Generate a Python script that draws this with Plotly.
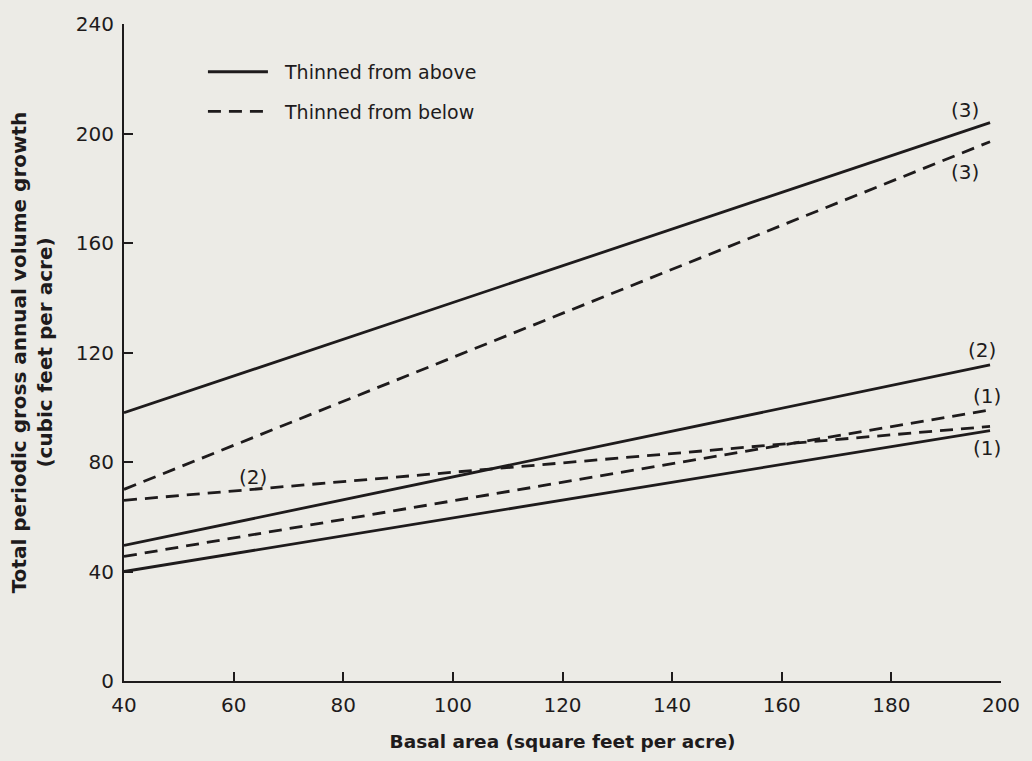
import plotly.graph_objects as go

# Data (basal area, sq ft per acre) and growth (cu ft per acre)
x_ends = [40, 198]
above_1 = [40, 91.5]
above_2 = [49.5, 115.5]
above_3 = [98, 204]
below_1 = [45.5, 99]
below_2 = [66, 93]
below_3 = [70, 197]

labels = ["(3)", "(3)", "(2)", "(1)", "(1)", "(2)"]
label_x = [193.5, 193.5, 196.5, 197.5, 197.5, 63.5]
label_y = [208.5, 186, 121, 104, 85, 74.5]

x_ticks = [40, 60, 80, 100, 120, 140, 160, 180, 200]
y_ticks = [0, 40, 80, 120, 160, 200, 240]

BG = "#ecebe6"
INK = "#1e1b1c"
FONT = "DejaVu Sans"

fig = go.Figure()

def add(y, dash, name, show):
    fig.add_trace(go.Scatter(
        x=x_ends, y=y, mode="lines",
        line=dict(color=INK, width=2.8, dash=dash),
        name="\u00a0\u00a0" + name, showlegend=show, legendgroup=name,
    ))

DASH = "13px,8px"
add(above_3, "solid", "Thinned from above", True)
add(above_2, "solid", "Thinned from above", False)
add(above_1, "solid", "Thinned from above", False)
add(below_3, DASH, "Thinned from below", True)
add(below_2, DASH, "Thinned from below", False)
add(below_1, DASH, "Thinned from below", False)

for t, lx, ly in zip(labels, label_x, label_y):
    fig.add_annotation(x=lx, y=ly, text=t, showarrow=False,
                       font=dict(family=FONT, size=20, color=INK))

axis_common = dict(
    showgrid=False, zeroline=False, showline=True,
    linecolor=INK, linewidth=2, ticks="inside", ticklen=9,
    tickwidth=1.5, tickcolor=INK,
    tickfont=dict(family=FONT, size=20, color=INK),
)

fig.update_layout(
    width=1032, height=761,
    paper_bgcolor=BG, plot_bgcolor=BG,
    margin=dict(l=124, r=23, t=23, b=74),
    xaxis=dict(range=[40, 200], tickvals=x_ticks, ticklabelstandoff=5,
               **axis_common,
               title=dict(text="<b>Basal area (square feet per acre)</b>",
                          font=dict(family=FONT, size=18.5, color=INK),
                          standoff=19)),
    yaxis=dict(range=[0, 240], tickvals=y_ticks, ticklabelstandoff=4,
               **axis_common,
               title=dict(text="<b>Total periodic gross annual volume growth<br>(cubic feet per acre)</b>",
                          font=dict(family=FONT, size=20, color=INK),
                          standoff=18)),
    legend=dict(x=0.09, y=0.956, xanchor="left", yanchor="top",
                bgcolor="rgba(0,0,0,0)",
                font=dict(family=FONT, size=19, color=INK),
                tracegroupgap=12, itemwidth=60),
    showlegend=True,
)

fig.write_html("out.html",
               config={"displayModeBar": False},
               post_script="document.body.style.margin='0';document.body.style.background='#ecebe6';")
